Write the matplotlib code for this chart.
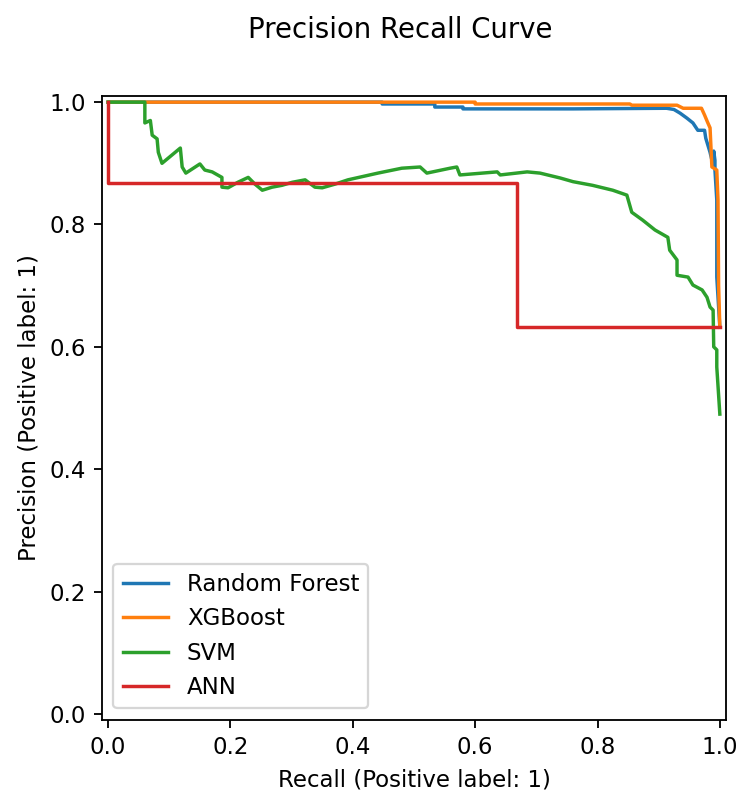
import numpy as np
import matplotlib
matplotlib.use("Agg")
import matplotlib.pyplot as plt

# precision / recall points per model, ordered by increasing recall
rf_recall = [0.0, 0.448, 0.448, 0.534, 0.534, 0.580, 0.580, 0.760, 0.913, 0.925,
             0.935, 0.946, 0.956, 0.964, 0.975, 0.977, 0.984, 0.989, 0.990, 0.992,
             0.992, 0.995, 0.995, 1.0]
rf_precision = [1.0, 1.0, 0.997, 0.997, 0.992, 0.992, 0.989, 0.989, 0.990, 0.988,
                0.982, 0.974, 0.966, 0.954, 0.954, 0.941, 0.918, 0.897, 0.920, 0.905,
                0.889, 0.840, 0.714, 0.632]

xgb_recall = [0.0, 0.600, 0.600, 0.853, 0.856, 0.930, 0.940, 0.970, 0.975, 0.980,
              0.984, 0.987, 0.995, 0.997, 0.997, 0.998, 1.0]
xgb_precision = [1.0, 1.0, 0.997, 0.997, 0.995, 0.995, 0.990, 0.990, 0.979, 0.967,
                 0.958, 0.894, 0.889, 0.840, 0.837, 0.700, 0.632]

svm_recall = [0.0, 0.060, 0.060, 0.069, 0.072, 0.080, 0.082, 0.088, 0.118, 0.121,
              0.127, 0.150, 0.158, 0.170, 0.186, 0.186, 0.196, 0.212, 0.229, 0.240,
              0.252, 0.268, 0.284, 0.301, 0.322, 0.338, 0.350, 0.371, 0.392, 0.441,
              0.480, 0.510, 0.521, 0.559, 0.570, 0.575, 0.636, 0.641, 0.685, 0.706,
              0.739, 0.760, 0.792, 0.825, 0.848, 0.856, 0.874, 0.894, 0.915, 0.918,
              0.930, 0.930, 0.948, 0.956, 0.971, 0.979, 0.984, 0.989, 0.990, 0.995,
              0.995, 1.0]
svm_precision = [1.0, 1.0, 0.966, 0.970, 0.946, 0.940, 0.918, 0.900, 0.925, 0.894,
                 0.884, 0.899, 0.889, 0.886, 0.877, 0.861, 0.860, 0.869, 0.877, 0.866,
                 0.856, 0.861, 0.864, 0.869, 0.873, 0.861, 0.860, 0.866, 0.873, 0.884,
                 0.892, 0.894, 0.884, 0.892, 0.894, 0.881, 0.886, 0.881, 0.886, 0.884,
                 0.876, 0.870, 0.864, 0.856, 0.848, 0.820, 0.807, 0.791, 0.779, 0.758,
                 0.742, 0.717, 0.714, 0.701, 0.693, 0.681, 0.665, 0.660, 0.600, 0.595,
                 0.567, 0.490]

ann_recall = [0.0, 0.668, 1.0]
ann_precision = [1.0, 0.868, 0.632]

models = ["Random Forest", "XGBoost", "SVM", "ANN"]

fig = plt.figure(figsize=(741 / 165, 795 / 165), dpi=165)
ax = fig.add_axes([0.1377, 0.0943, 0.842, 0.785])

ax.plot(rf_recall, rf_precision, label=models[0])
ax.plot(xgb_recall, xgb_precision, label=models[1])
ax.plot(svm_recall, svm_precision, label=models[2])
ax.plot(ann_recall, ann_precision, drawstyle="steps-pre", label=models[3])

ax.set_xlim(-0.01, 1.01)
ax.set_ylim(-0.01, 1.01)
ax.set_aspect("equal")
ax.set_xticks(np.arange(0, 1.01, 0.2))
ax.set_yticks(np.arange(0, 1.01, 0.2))
ax.set_xlabel("Recall (Positive label: 1)")
ax.set_ylabel("Precision (Positive label: 1)")
ax.legend(loc="lower left")

fig.text(0.54, 0.962, "Precision Recall Curve", ha="center", va="center", fontsize=12)

fig.savefig("out.png", dpi=165)
